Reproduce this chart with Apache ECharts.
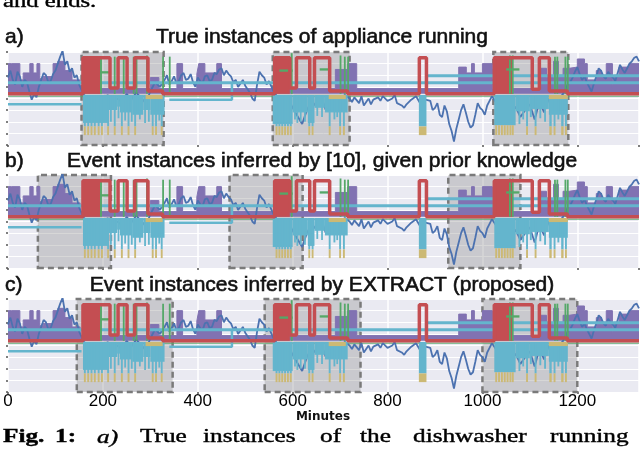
<!DOCTYPE html>
<html><head><meta charset="utf-8">
<script src="https://cdn.jsdelivr.net/npm/echarts@6/dist/echarts.min.js"></script>
<style>html,body{margin:0;padding:0;background:#fff}#c{width:640px;height:455px}</style>
</head><body><div id="c"></div>
<script>
// ---------- text ----------
const panelLetters = ['a)', 'b)', 'c)'];
const panelTitles = [
  'True instances of appliance running',
  'Event instances inferred by [10], given prior knowledge',
  'Event instances inferred by EXTRACT (proposed)'
];
const xTickLabels = [0, 200, 400, 600, 800, 1000, 1200];
const xAxisName = 'Minutes';
const topText = 'and ends.';
const captionWords = ['Fig.', '1:', 'a)', 'True', 'instances', 'of', 'the', 'dishwasher', 'running'];

// ---------- shaded intervals (minutes) ----------
const boxesA = [[155, 328], [558, 720], [1023, 1181]];
const boxesB = [[63, 217], [467, 621], [928, 1080]];
const boxesC = [[145, 347], [541, 743], [1000, 1200]];

// ---------- signals [minute, level] ----------
const blueSignal = [
  [0,5.8],[5,6.4],[10,5.6],[15,5.2],[20,6.3],[25,5.9],[30,5.0],[35,5.6],[40,5.4],[45,4.6],[50,3.9],[55,4.4],[60,4.1],[65,5.0],[70,5.6],[75,6.2],
  [80,6.0],[85,5.4],[90,5.5],[95,6.1],[100,6.4],[105,7.0],[110,7.6],[115,8.1],[120,6.9],[125,7.2],[130,6.3],[135,6.6],[140,5.8],[145,6.0],[150,5.2],
  [160,4.3],[170,4.0],[180,3.6],[190,4.2],[200,3.8],[210,4.3],[220,3.5],[230,4.0],[240,3.7],[250,4.4],[260,3.9],[270,4.5],[280,4.1],[290,3.6],[300,4.6],[310,5.4],[320,5.0],
  [330,5.6],[335,6.0],[340,5.2],[345,5.5],[350,5.9],[355,5.3],[360,5.5],[365,6.0],[370,6.2],[375,5.6],[380,5.7],[385,6.1],[390,5.4],[395,5.0],[400,5.8],[405,5.5],
  [410,5.3],[415,5.9],[420,6.0],[425,5.5],[430,5.6],[435,6.2],[440,6.1],[445,6.5],[450,6.6],[455,6.0],[460,6.4],[465,6.1],[470,5.9],[475,5.4],[480,5.6],[485,5.0],
  [490,5.3],[495,5.6],[500,5.1],[505,4.8],[510,4.5],[515,4.0],[520,3.8],[525,5.2],[530,6.3],[535,6.0],[540,5.8],[545,5.2],[550,5.5],
  [560,4.6],[570,4.0],[580,3.5],[590,4.1],[600,3.2],[610,2.5],[620,1.8],[630,3.0],[640,3.8],[650,3.3],[660,4.2],
  [670,3.0],[680,3.6],[690,2.9],[700,3.9],[710,4.3],[720,4.0],[725,3.7],[730,4.1],[740,3.6],[745,4.2],[750,3.4],[760,4.0],[765,3.5],[770,3.9],[780,4.1],[785,3.8],
  [790,4.2],[800,3.8],[810,4.0],[815,4.3],[820,3.6],[830,3.4],[835,3.2],[840,3.5],[850,3.9],[860,4.2],[870,3.5],[880,3.9],[890,3.8],[895,3.0],[900,3.2],[905,3.6],
  [910,2.6],[915,2.4],[920,3.4],[925,2.9],[930,1.8],[935,1.2],[940,0.3],[945,1.4],[950,2.2],[955,3.0],[960,3.5],[965,2.8],[970,2.0],[975,1.5],[980,1.7],[985,2.6],
  [990,3.6],[995,3.2],[1000,3.0],[1005,2.6],[1010,3.4],[1015,3.8],[1020,4.2],[1030,3.6],[1040,2.9],[1050,3.8],[1060,2.6],[1070,3.3],[1080,2.4],[1090,3.0],
  [1100,3.5],[1110,2.2],[1120,3.7],[1130,2.8],[1140,4.0],[1150,3.2],[1160,3.9],[1170,4.4],[1180,5.2],[1185,5.4],[1190,5.8],[1195,6.3],[1200,6.7],[1205,6.1],
  [1210,5.6],[1215,5.9],[1220,5.4],[1225,5.0],[1230,4.6],[1235,5.3],[1240,5.9],[1245,6.6],[1250,6.4],[1255,5.9],[1260,5.7],[1265,6.3],[1270,6.0],[1275,5.8],
  [1280,5.5],[1285,6.2],[1290,6.9],[1295,6.5],[1300,6.2],[1305,6.6],[1310,7.0],[1315,7.2],[1320,7.5],[1325,7.6],[1330,7.2]
];
const purpleSignal = [
  [0,7.0],[8,7.0],[25,5.6],[32,6.2],[46,7.0],[53,6.2],[61,7.0],[67,5.7],[74,5.9],[95,7.0],[105,7.2],[120,6.4],[135,5.6],[152,4.85],
  [300,5.8],[318,4.85],[356,7.0],[368,4.85],[398,6.1],[402,7.0],[415,6.2],[440,7.0],[450,4.85],[690,6.5],[716,7.0],[735,4.85],
  [950,6.7],[966,6.2],[977,7.0],[983,6.2],[1000,7.0],[1021,4.85],[1120,6.6],[1135,5.8],[1150,7.2],[1160,6.0],[1170,6.6],[1183,6.7],
  [1200,7.4],[1215,7.0],[1221,5.6],[1240,6.4],[1251,6.0],[1261,7.0],[1274,4.85],[1278,6.0],[1288,6.7],[1309,7.0],[1330,7.0]
];
const redSignal = [
  [0,4.4],[158,7.5],[194,7.5],[215,4.9],[232,7.5],[251,4.9],[267,7.5],[295,4.65],[326,4.4],
  [562,7.5],[594,4.9],[608,7.5],[636,4.9],[646,7.5],[678,4.65],[716,4.4],
  [867,7.5],[882,4.4],
  [1025,7.5],[1105,4.8],[1120,7.5],[1141,4.65],[1179,4.4],[1330,4.4]
];
const cyanUpper = [[0,5.35],[1330,5.35]];
const cyanUpper2 = [[880,5.95],[1330,5.95]];
const cyanLower = [[0,3.5],[155,3.5],null,[340,3.9],[472,3.9],[472,5.35]];
const greenBase = [[0,4.2],[1330,4.2]];

// ---------- blocks [startMin, endMin, lowLevel, highLevel] ----------
const redDense = [[158,194,4.4,7.5],[562,594,4.4,7.5],[1025,1063,4.4,7.5]];
const cyanSpikes = [
  [158,212,1.9,4.3],[212,230,3.0,4.3],[230,236,3.3,4.3],[236,262,2.8,4.3],[262,285,2.6,4.3],[285,300,3.0,4.3],[300,330,2.6,4.3],
  [160,164,1.6,4.3],[167,171,1.6,4.3],[174,178,1.6,4.3],[181,185,1.6,4.3],[189,193,1.6,4.3],[196,200,1.6,4.3],
  [209,213,1.6,4.3],[215,218,2.0,4.3],[223,227,1.6,4.3],[231,234,2.3,4.3],[238,242,1.6,4.3],[245,248,2.1,4.3],[252,256,1.6,4.3],[259,262,2.0,4.3],
  [266,270,1.6,4.3],[276,279,2.2,4.3],[287,290,1.9,4.3],[295,298,2.0,4.3],[303,307,1.6,4.3],[310,314,1.6,4.3],[317,320,2.1,4.3],[322,326,1.6,4.3],
  [558,600,1.8,4.3],[600,632,2.8,4.3],[632,646,1.9,4.3],[646,668,3.2,4.3],[668,716,2.8,4.3],
  [564,568,1.6,4.3],[570,574,1.6,4.3],[576,580,1.6,4.3],[582,586,1.6,4.3],[588,592,1.6,4.3],[594,598,1.6,4.3],
  [603,606,2.2,4.3],[608,611,1.9,4.3],[615,618,2.0,4.3],[624,627,2.0,4.3],[633,637,1.6,4.3],[640,644,1.6,4.3],[650,653,2.5,4.3],[660,663,2.4,4.3],
  [676,680,1.6,4.3],[686,690,2.2,4.3],[692,695,2.4,4.3],[698,702,1.6,4.3],[706,710,1.6,4.3],
  [866,882,1.6,4.3],
  [1025,1070,1.7,4.3],[1070,1100,2.9,4.3],[1100,1140,3.1,4.3],[1140,1180,2.6,4.3],
  [1076,1080,1.8,4.3],[1084,1087,2.2,4.3],[1092,1096,1.6,4.3],[1100,1104,2.4,4.3],[1110,1114,1.6,4.3],[1120,1124,2.3,4.3],[1130,1134,2.0,4.3],
  [1141,1146,1.6,4.3],[1150,1154,1.6,4.3],[1158,1162,2.2,4.3],[1166,1171,1.6,4.3],[1174,1178,1.6,4.3]
];
const yellowSpikes = [
  [160,164,0.85,1.6],[167,171,0.85,1.6],[174,178,0.85,1.6],[181,185,0.85,1.6],[189,193,0.85,1.6],[196,200,0.85,1.6],
  [209,213,0.85,1.6],[223,227,0.85,1.6],[238,242,0.85,1.6],[252,256,0.85,1.6],[266,270,0.85,1.6],[303,307,0.85,1.6],[310,314,0.85,1.6],[322,326,0.85,1.6],
  [290,326,3.95,4.3],
  [564,568,0.85,1.6],[570,574,0.85,1.6],[576,580,0.85,1.6],[582,586,0.85,1.6],[588,592,0.85,1.6],[594,598,0.85,1.6],
  [633,637,0.85,1.6],[640,644,0.85,1.6],[676,680,0.85,1.6],[698,702,0.85,1.6],[706,710,0.85,1.6],[676,712,3.95,4.3],
  [866,882,0.85,1.6],
  [1027,1031,0.85,1.7],[1033,1037,0.85,1.7],[1039,1043,0.85,1.7],[1045,1049,0.85,1.7],[1051,1055,0.85,1.7],[1057,1061,0.85,1.7],[1062,1066,0.85,1.7],
  [1092,1096,0.85,1.6],[1110,1114,0.85,1.6],[1141,1146,0.85,1.6],[1150,1154,0.85,1.6],[1166,1171,0.85,1.6],[1174,1178,0.85,1.6],[1140,1180,3.95,4.3]
];
const greenSpikes = [
  [194,198,4.4,7.6],[223,226,4.4,7.6],[242,245,4.4,7.6],[263,266,4.4,7.6],[269,272,4.4,7.6],[291,294,4.4,7.7],[325,328,4.4,7.6],[339,342,4.4,7.6],
  [194,214,6.15,6.35],[572,600,6.3,6.5],[657,678,6.4,6.6],[1050,1078,6.4,6.6],
  [596,600,4.4,7.9],[699,702,4.4,7.7],[708,711,4.4,7.6],[715,718,4.4,7.6],
  [1056,1059,4.4,7.7],[1062,1065,4.4,7.7],[1151,1154,4.4,7.6],[1156,1159,4.4,7.6],[1173,1176,4.4,7.6],[1178,1181,4.4,7.6]
];

// ---------- layout / style ----------
const C = {blue:'#4C72B0', green:'#55A868', red:'#C44E52', purple:'#8172B2', yellow:'#CCB974', cyan:'#64B5CD'};
const GRID_TOPS = [52, 175, 299];
const GRID_H = 93;
const TITLE_Y = [37, 161, 285];
const CAPTION_X = [3, 55, 97, 140, 203, 320, 360, 413, 550];

function rectRender(color) {
  return function (params, api) {
    const a = api.coord([api.value(0), api.value(3)]);
    const b = api.coord([api.value(1), api.value(2)]);
    return {type:'rect', shape:{x:a[0], y:a[1], width:Math.max(b[0]-a[0], 1.8), height:b[1]-a[1]}, style:{fill:color}};
  };
}
function custom(i, data, color, z) {
  return {type:'custom', xAxisIndex:i, yAxisIndex:i, data:data, renderItem:rectRender(color),
    encode:{x:[0,1], y:[2,3]}, clip:true, z:z, silent:true};
}
function line(i, data, color, width, z, extra) {
  return Object.assign({type:'line', xAxisIndex:i, yAxisIndex:i, data:data, showSymbol:false, symbol:'none',
    lineStyle:{color:color, width:width}, itemStyle:{color:color}, z:z, silent:true, animation:false, connectNulls:false}, extra||{});
}
function panelSeries(i, boxes) {
  return [
    line(i, greenBase, C.green, 1, 1, {markArea:{silent:true,
      itemStyle:{color:'rgba(130,130,130,0.32)', borderColor:'#7a7a7a', borderWidth:2.5, borderType:[6,4]},
      data: boxes.map(b => [{xAxis:b[0]}, {xAxis:b[1]}])}}),
    line(i, purpleSignal, C.purple, 1, 2, {step:'end', areaStyle:{color:C.purple, opacity:1, origin:4.4}}),
    line(i, blueSignal, C.blue, 1.8, 3),
    line(i, cyanUpper, C.cyan, 3, 4),
    line(i, cyanUpper2, C.cyan, 3, 4),
    line(i, cyanLower, C.cyan, 2.5, 4),
    custom(i, cyanSpikes, C.cyan, 5),
    custom(i, yellowSpikes, C.yellow, 6),
    custom(i, redDense, C.red, 7),
    custom(i, greenSpikes, C.green, 8),
    line(i, redSignal, C.red, 3.5, 9, {step:'end'})
  ];
}

const chart = echarts.init(document.getElementById('c'), null, {renderer:'canvas'});
const textColor = '#111';
const graphics = [];
panelLetters.forEach((t, i) => graphics.push({type:'text', x:5, y:TITLE_Y[i],
  style:{text:t, font:'21px "Liberation Sans"', fill:textColor, stroke:textColor, lineWidth:0.6, textAlign:'left', textVerticalAlign:'middle'}}));
panelTitles.forEach((t, i) => graphics.push({type:'text', x:322, y:TITLE_Y[i],
  style:{text:t, font:'21px "Liberation Sans"', fill:textColor, stroke:textColor, lineWidth:0.6, textAlign:'center', textVerticalAlign:'middle'}}));
graphics.push({type:'text', x:323, y:417, style:{text:xAxisName, font:'bold 12px "DejaVu Sans"', fill:'#111', textAlign:'center', textVerticalAlign:'middle'}});
graphics.push({type:'text', x:3, y:2.5, scaleX:1.3, style:{text:topText, font:'19px "Liberation Serif"', fill:'#000', stroke:'#000', lineWidth:0.4, textAlign:'left', textVerticalAlign:'middle'}});
captionWords.forEach((w, k) => {
  const weight = k < 2 ? 'bold ' : (k === 2 ? 'italic ' : '');
  graphics.push({type:'text', x:CAPTION_X[k], y:437.5, scaleX:1.33,
    style:{text:w, font: weight + '19px "Liberation Serif"', fill:'#000', stroke:'#000', lineWidth:0.4, textAlign:'left', textVerticalAlign:'middle'}});
});

const option = {
  animation:false,
  backgroundColor:'#ffffff',
  grid: GRID_TOPS.map(t => ({left:8, right:1, top:t, height:GRID_H, show:true, backgroundColor:'#EAEAF2', borderWidth:0})),
  xAxis: [0,1,2].map(i => ({type:'value', gridIndex:i, min:0, max:1330, interval:200,
    axisLine:{show:false},
    axisTick:{show:true, length:2, lineStyle:{color:'#555', width:1.5}},
    axisLabel:{show:i===2, showMaxLabel:false, margin:1, fontSize:17, color:'#000', fontFamily:'Liberation Sans',
      formatter: v => xTickLabels.indexOf(v) >= 0 ? String(v) : ''},
    splitLine:{show:true, lineStyle:{color:'#ffffff', width:1.5}}})),
  yAxis: [0,1,2].map(i => ({type:'value', gridIndex:i, min:0, max:8, interval:1,
    axisLine:{show:false}, axisLabel:{show:false},
    axisTick:{show:true, length:2, lineStyle:{color:'#555', width:1.5}},
    splitLine:{show:true, lineStyle:{color:'#ffffff', width:1}}})),
  series: [].concat(panelSeries(0, boxesA), panelSeries(1, boxesB), panelSeries(2, boxesC)),
  graphic: graphics
};
chart.setOption(option);
</script></body></html>
